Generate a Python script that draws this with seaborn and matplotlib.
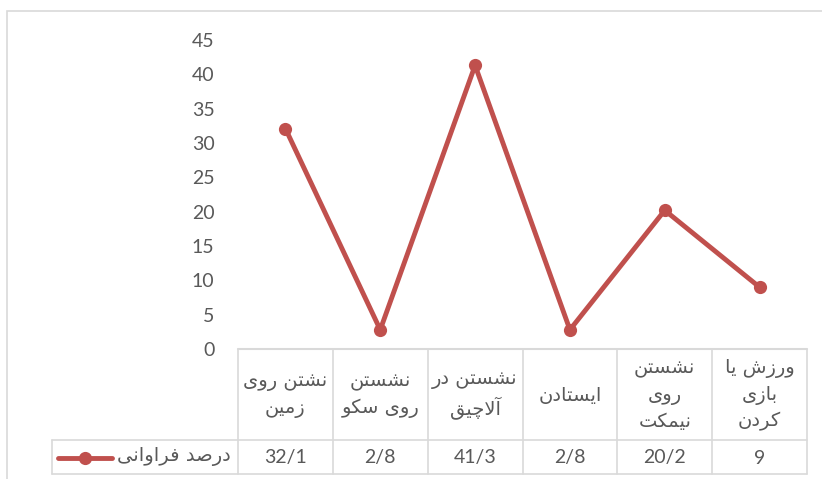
import matplotlib.pyplot as plt
import matplotlib.transforms as mtransforms
from matplotlib.lines import Line2D
from matplotlib.patches import Rectangle
import seaborn as sns

# Data
categories = ["نشتن روی\nزمین", "نشستن\nروی سکو", "نشستن در\nآلاچیق",
              "ایستادن", "نشستن\nروی\nنیمکت", "ورزش یا\nبازی\nکردن"]
values = [32.1, 2.8, 41.3, 2.8, 20.2, 9]
value_labels = ["32/1", "2/8", "41/3", "2/8", "20/2", "9"]
series_name = "درصد فراوانی"
yticks = [0, 5, 10, 15, 20, 25, 30, 35, 40, 45]

# Arabic/Persian shaping (matplotlib has no complex text layout)
DUAL = {
    "ب": "\uFE8F\uFE90\uFE91\uFE92", "پ": "\uFB56\uFB57\uFB58\uFB59",
    "ت": "\uFE95\uFE96\uFE97\uFE98", "چ": "\uFB7A\uFB7B\uFB7C\uFB7D",
    "س": "\uFEB1\uFEB2\uFEB3\uFEB4", "ش": "\uFEB5\uFEB6\uFEB7\uFEB8",
    "ص": "\uFEB9\uFEBA\uFEBB\uFEBC", "ف": "\uFED1\uFED2\uFED3\uFED4",
    "ق": "\uFED5\uFED6\uFED7\uFED8", "ک": "\uFB8E\uFB8F\uFB90\uFB91",
    "ل": "\uFEDD\uFEDE\uFEDF\uFEE0", "م": "\uFEE1\uFEE2\uFEE3\uFEE4",
    "ن": "\uFEE5\uFEE6\uFEE7\uFEE8", "ی": "\uFBFC\uFBFD\uFBFE\uFBFF",
}
RIGHT = {
    "ا": "\uFE8D\uFE8E", "آ": "\uFE81\uFE82", "د": "\uFEA9\uFEAA",
    "ر": "\uFEAD\uFEAE", "ز": "\uFEAF\uFEB0", "و": "\uFEED\uFEEE",
}
LAMALEF = {"ا": "\uFEFB\uFEFC", "آ": "\uFEF5\uFEF6"}


def shape_line(text):
    out = []
    i = 0
    while i < len(text):
        c = text[i]
        prev = text[i - 1] if i > 0 else ""
        nxt = text[i + 1] if i + 1 < len(text) else ""
        to_prev = prev in DUAL and (c in DUAL or c in RIGHT)
        if c == "ل" and nxt in LAMALEF:
            out.append(LAMALEF[nxt][1 if to_prev else 0])
            i += 2
            continue
        if c in DUAL:
            to_next = nxt in DUAL or nxt in RIGHT
            idx = {(False, False): 0, (True, False): 1,
                   (False, True): 2, (True, True): 3}[(to_prev, to_next)]
            out.append(DUAL[c][idx])
        elif c in RIGHT:
            out.append(RIGHT[c][1 if to_prev else 0])
        else:
            out.append(c)
        i += 1
    return "".join(out)[::-1]


def rtl(text):
    return "\n".join(shape_line(line) for line in text.split("\n"))


sns.set_style("white")
plt.rcParams["font.family"] = ["Lato", "DejaVu Sans"]

W, H = 822, 479
red = "#C0504D"
grid = "#D9D9D9"
txt = "#595959"


def fy(y):
    return 1 - y / H


fig = plt.figure(figsize=(W / 100, H / 100), dpi=100)
fig.add_artist(Rectangle((7 / W, fy(H + 5)), (W - 6) / W, (H + 5 - 11) / H,
                         transform=fig.transFigure, fill=False,
                         edgecolor=grid, lw=1.2))

ax = fig.add_axes([238 / W, fy(349), (807 - 238) / W, (349 - 40) / H])
x = list(range(len(values)))
sns.lineplot(x=x, y=values, ax=ax, color=red, linewidth=3.5, marker="o",
             markersize=9.5, markeredgewidth=0)
ax.set_xlim(-0.5, len(values) - 0.5)
ax.set_ylim(0, 45)
ax.set_xticks([])
ax.set_yticks(yticks)
ax.tick_params(axis="y", length=0, pad=17, labelsize=14, labelcolor=txt)
ax.set_xlabel("")
ax.set_ylabel("")
sns.despine(ax=ax, left=True, bottom=True)
ax.patch.set_alpha(0)

# data table below the plot
trans = mtransforms.blended_transform_factory(ax.transData, fig.transFigure)
n = len(values)
fig.add_artist(Line2D([-0.5, n - 0.5], [fy(349), fy(349)], transform=trans,
                      color=grid, lw=1.5))
for k in range(n + 1):
    fig.add_artist(Line2D([k - 0.5, k - 0.5], [fy(349), fy(474)],
                          transform=trans, color=grid, lw=1.2))
for yy in (440, 474):
    fig.add_artist(Line2D([52 / W, 807 / W], [fy(yy), fy(yy)],
                          transform=fig.transFigure, color=grid, lw=1.2))
fig.add_artist(Line2D([52 / W, 52 / W], [fy(440), fy(474)],
                      transform=fig.transFigure, color=grid, lw=1.2))

for i, (cat, lab) in enumerate(zip(categories, value_labels)):
    fig.text(i, fy(395), rtl(cat), transform=trans, ha="center", va="center",
             multialignment="center", fontsize=14, color=txt,
             linespacing=1.45, family="DejaVu Sans")
    fig.text(i, fy(458), lab, transform=trans, ha="center", va="center",
             fontsize=14, color=txt)

# legend key in the table
fig.add_artist(Line2D([58 / W, 112 / W], [fy(458), fy(458)],
                      transform=fig.transFigure, color=red, lw=3.5))
fig.add_artist(Line2D([85 / W], [fy(458)], transform=fig.transFigure,
                      color=red, marker="o", markersize=9.5, markeredgewidth=0))
fig.text(231 / W, fy(457), rtl(series_name), ha="right", va="center",
         fontsize=14, color=txt, family="DejaVu Sans")

fig.savefig("out.png", dpi=100)
